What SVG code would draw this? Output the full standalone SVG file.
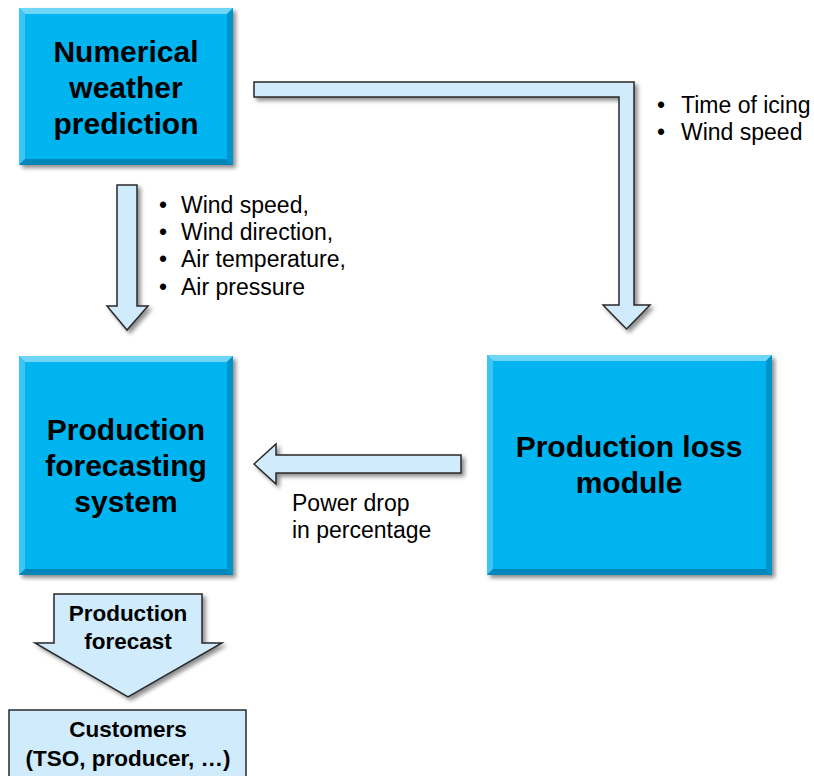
<svg xmlns="http://www.w3.org/2000/svg" width="814" height="776" viewBox="0 0 814 776">
<defs>
  <filter id="sh" x="-10%" y="-10%" width="130%" height="130%">
    <feGaussianBlur in="SourceAlpha" stdDeviation="2"/>
    <feOffset dx="3" dy="3" result="b"/>
    <feComponentTransfer><feFuncA type="linear" slope="0.45"/></feComponentTransfer>
    <feMerge><feMergeNode/><feMergeNode in="SourceGraphic"/></feMerge>
  </filter>
</defs>
<style>
  .box { fill: #00B4F0; }
  .bt { fill: #6FD6F8; }
  .bl { fill: #3CC6F4; }
  .br { fill: #0094CA; }
  .bb { fill: #0086B8; }
  .arr { fill: #CFEBFC; stroke: #2A2A2A; stroke-width: 1.5; stroke-linejoin: miter; }
  .big { font-family: "Liberation Sans", Arial, sans-serif; font-weight: bold; font-size: 30px; fill: #000; text-anchor: middle; }
  .med { font-family: "Liberation Sans", Arial, sans-serif; font-weight: bold; font-size: 22.5px; fill: #000; text-anchor: middle; }
  .lbl { font-family: "Liberation Sans", Arial, sans-serif; font-size: 23px; fill: #000; }
  .cust { fill: #CFEBFC; stroke: #2A2A2A; stroke-width: 1.5; }
</style>

<g id="connectors">
  <polygon class="arr" filter="url(#sh)" points="117,185 137,185 137,306 148,306 127,330 107,306 117,306"/>
  <polygon class="arr" filter="url(#sh)" points="254,82 634,82 634,305 650,305 626.5,329 603,305 619,305 619,97 254,97"/>
  <polygon class="arr" filter="url(#sh)" points="254,464 276,444 276,455 461,455 461,473 276,473 276,484"/>
  <polygon class="arr" filter="url(#sh)" points="54,594 202,594 202,643 222,643 128,697 35,643 54,643"/>
</g>

<g id="nwp">
  <g filter="url(#sh)">
    <rect class="box" x="19" y="8" width="214" height="157"/>
    <polygon class="bt" points="19,8 233,8 227,14 25,14"/>
    <polygon class="bl" points="19,8 25,14 25,159 19,165"/>
    <polygon class="br" points="233,8 233,165 227,159 227,14"/>
    <polygon class="bb" points="19,165 233,165 227,159 25,159"/>
  </g>
  <text class="big" x="126" y="62">Numerical</text>
  <text class="big" x="126" y="98">weather</text>
  <text class="big" x="126" y="134">prediction</text>
</g>

<g id="pfs">
  <g filter="url(#sh)">
    <rect class="box" x="19" y="356" width="214" height="219"/>
    <polygon class="bt" points="19,356 233,356 227,362 25,362"/>
    <polygon class="bl" points="19,356 25,362 25,569 19,575"/>
    <polygon class="br" points="233,356 233,575 227,569 227,362"/>
    <polygon class="bb" points="19,575 233,575 227,569 25,569"/>
  </g>
  <text class="big" x="126" y="440">Production</text>
  <text class="big" x="126" y="476">forecasting</text>
  <text class="big" x="126" y="512">system</text>
</g>

<g id="plm">
  <g filter="url(#sh)">
    <rect class="box" x="487" y="355" width="285" height="220"/>
    <polygon class="bt" points="487,355 772,355 766,361 493,361"/>
    <polygon class="bl" points="487,355 493,361 493,569 487,575"/>
    <polygon class="br" points="772,355 772,575 766,569 766,361"/>
    <polygon class="bb" points="487,575 772,575 766,569 493,569"/>
  </g>
  <text class="big" x="629" y="457">Production loss</text>
  <text class="big" x="629" y="493">module</text>
</g>

<g id="forecast">
  <text class="med" x="128" y="621">Production</text>
  <text class="med" x="128" y="649">forecast</text>
</g>

<g id="customers">
  <rect class="cust" x="9" y="710" width="237" height="70"/>
  <text class="med" x="128" y="737">Customers</text>
  <text class="med" x="128" y="766">(TSO, producer, …)</text>
</g>

<g id="labels">
  <text class="lbl" x="159" y="213">•</text><text class="lbl" x="181" y="213">Wind speed,</text>
  <text class="lbl" x="159" y="240">•</text><text class="lbl" x="181" y="240">Wind direction,</text>
  <text class="lbl" x="159" y="267">•</text><text class="lbl" x="181" y="267">Air temperature,</text>
  <text class="lbl" x="159" y="295">•</text><text class="lbl" x="181" y="295">Air pressure</text>
  <text class="lbl" x="657" y="113">•</text><text class="lbl" x="681" y="113">Time of icing</text>
  <text class="lbl" x="657" y="140">•</text><text class="lbl" x="681" y="140">Wind speed</text>
  <text class="lbl" x="292" y="511">Power drop</text>
  <text class="lbl" x="292" y="538">in percentage</text>
</g>
</svg>
